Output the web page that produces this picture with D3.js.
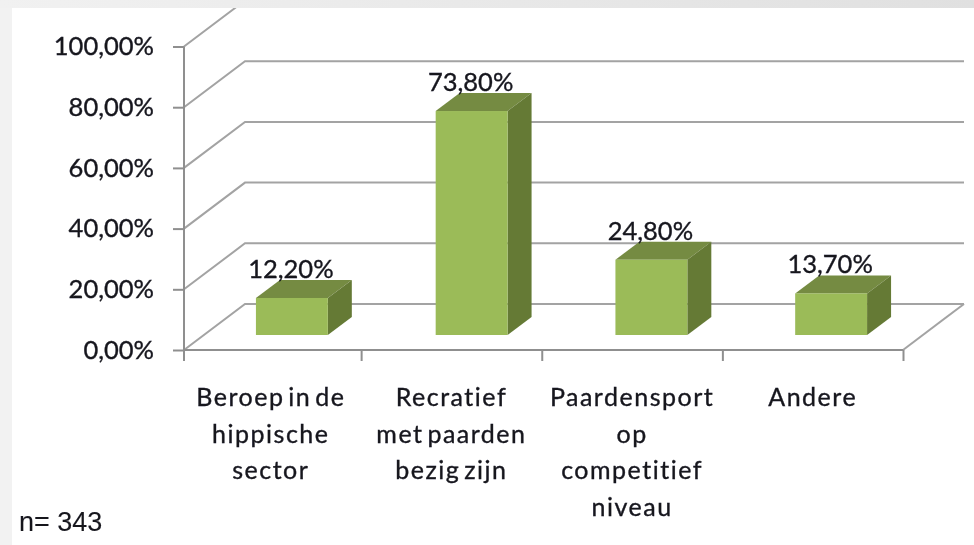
<!DOCTYPE html>
<html>
<head>
<meta charset="utf-8">
<script src="https://cdn.jsdelivr.net/npm/d3@7"></script>
<style>
  html, body { margin: 0; padding: 0; background: #fff; }
  svg { display: block; }
  text { font-family: Lato, "Open Sans", sans-serif; fill: #16161f; font-variant-ligatures: none; stroke: #16161f; stroke-width: 0.35px; }
</style>
</head>
<body>
<svg id="chart" width="974" height="545"></svg>
<script>
var categories = [
  ["Beroep in de", "hippische", "sector"],
  ["Recratief", "met paarden", "bezig zijn"],
  ["Paardensport", "op", "competitief", "niveau"],
  ["Andere"]
];
var values = [12.2, 73.8, 24.8, 13.7];
var valueLabels = ["12,20%", "73,80%", "24,80%", "13,70%"];
var yTicks = [0, 20, 40, 60, 80, 100];

var width = 974, height = 545;
var depthX = 61, depthY = 46;   // back wall offset
var floorX = 18, floorY = 15;   // where the bars stand on the floor
var barDX = 24, barDY = 18;     // depth of a bar

var svg = d3.select("#chart");

var y = d3.scaleLinear().domain([0, 100]).range([350, 46.5]);
var x = d3.scaleBand().domain(d3.range(categories.length)).range([184, 903]).paddingInner(0.6).paddingOuter(0.3);
var xTicks = d3.scaleLinear().domain([0, categories.length]).range([180.5, 903]);

var locale = d3.formatLocale({decimal: ",", thousands: ".", grouping: [3], currency: ["", ""]});
var fmt = locale.format(".2f");

// page background bands
var grad = svg.append("defs").append("linearGradient").attr("id", "band");
grad.append("stop").attr("offset", "0%").attr("stop-color", "#f1f1f1");
grad.append("stop").attr("offset", "100%").attr("stop-color", "#e0e0e0");
svg.select("defs").append("clipPath").attr("id", "panel")
  .append("rect").attr("x", 12).attr("y", 8).attr("width", width - 12).attr("height", height - 8);
svg.select("defs").append("filter").attr("id", "soft")
  .append("feGaussianBlur").attr("stdDeviation", 0.5);

svg.append("rect").attr("width", 12).attr("height", height).attr("fill", "#f2f2f2");
svg.append("rect").attr("width", width).attr("height", 8).attr("fill", "url(#band)");

var plot = svg.append("g").attr("clip-path", "url(#panel)").append("g").attr("filter", "url(#soft)");

// walls and gridlines
plot.selectAll("path.grid")
    .data(yTicks)
  .enter().append("path")
    .attr("class", "grid")
    .attr("fill", "none")
    .attr("stroke", "#a3a3a3")
    .attr("stroke-width", 2)
    .attr("d", function(d) {
      return d3.line()([
        [184, y(d)],
        [184 + depthX, y(d) - depthY],
        [903 + depthX, y(d) - depthY]
      ]);
    });

// floor right edge
plot.append("path")
    .attr("fill", "none")
    .attr("stroke", "#a3a3a3")
    .attr("stroke-width", 2)
    .attr("d", d3.line()([[903, y(0)], [903 + depthX, y(0) - depthY]]));

// axes
var yAxis = d3.axisLeft(y).tickValues(yTicks).tickSize(11).tickPadding(19)
    .tickFormat(function(d) { return fmt(d) + "%"; });
var yG = plot.append("g").attr("transform", "translate(184,0)").call(yAxis);
yG.selectAll("line, path").attr("stroke", "#8f8f8f").attr("stroke-width", 2);
yG.select("path.domain").attr("d", "M0," + y(100) + "V" + (y(0) + 11));
yG.selectAll("text").attr("font-size", 25.5).style("font-family", "Lato, sans-serif");

var xAxis = d3.axisBottom(xTicks).tickValues([1, 2, 3, 4]).tickSize(11).tickFormat("");
var xG = plot.append("g").attr("transform", "translate(0," + y(0) + ")").call(xAxis);
xG.selectAll("line, path").attr("stroke", "#8f8f8f").attr("stroke-width", 2);
xG.select("path.domain").attr("d", "M184,0H903");

// bars
var bar = plot.selectAll("g.bar")
    .data(values)
  .enter().append("g")
    .attr("class", "bar")
    .attr("transform", function(d, i) { return "translate(" + (x(i) + floorX) + ",0)"; });

var baseY = y(0) - floorY;
var topY = function(d) { return y(d) - floorY; };
var w = x.bandwidth();

bar.append("path")
    .attr("fill", "#758b42")
    .attr("d", function(d) {
      return d3.line()([[0, topY(d)], [barDX, topY(d) - barDY], [w + barDX, topY(d) - barDY], [w, topY(d)]]) + "Z";
    });
bar.append("path")
    .attr("fill", "#657a36")
    .attr("d", function(d) {
      return d3.line()([[w, topY(d)], [w + barDX, topY(d) - barDY], [w + barDX, baseY - barDY], [w, baseY]]) + "Z";
    });
bar.append("rect")
    .attr("fill", "#9bbb59")
    .attr("x", 0)
    .attr("y", function(d) { return topY(d); })
    .attr("width", w)
    .attr("height", function(d) { return baseY - topY(d); });

// value labels
bar.append("text")
    .attr("x", w / 2 - 1)
    .attr("y", function(d) { return topY(d) - 20; })
    .attr("text-anchor", "middle")
    .attr("font-size", 25.5)
    .text(function(d, i) { return valueLabels[i]; });

// category labels
var cat = plot.selectAll("text.cat")
    .data(categories)
  .enter().append("text")
    .attr("class", "cat")
    .attr("text-anchor", "middle")
    .attr("font-size", 25)
    .attr("letter-spacing", 1.5)
    .attr("word-spacing", -4);
cat.selectAll("tspan")
    .data(function(d, i) { return d.map(function(s) { return {s: s, i: i}; }); })
  .enter().append("tspan")
    .attr("x", function(d) { return xTicks(d.i + 0.5); })
    .attr("y", function(d, j) { return 406 + j * 36.7; })
    .text(function(d) { return d.s; });

plot.append("text")
    .attr("x", 19)
    .attr("y", 531)
    .attr("font-size", 27)
    .style("font-family", "'Liberation Sans', sans-serif")
    .style("stroke-width", "0.1px")
    .text("n= 343");
</script>
</body>
</html>
